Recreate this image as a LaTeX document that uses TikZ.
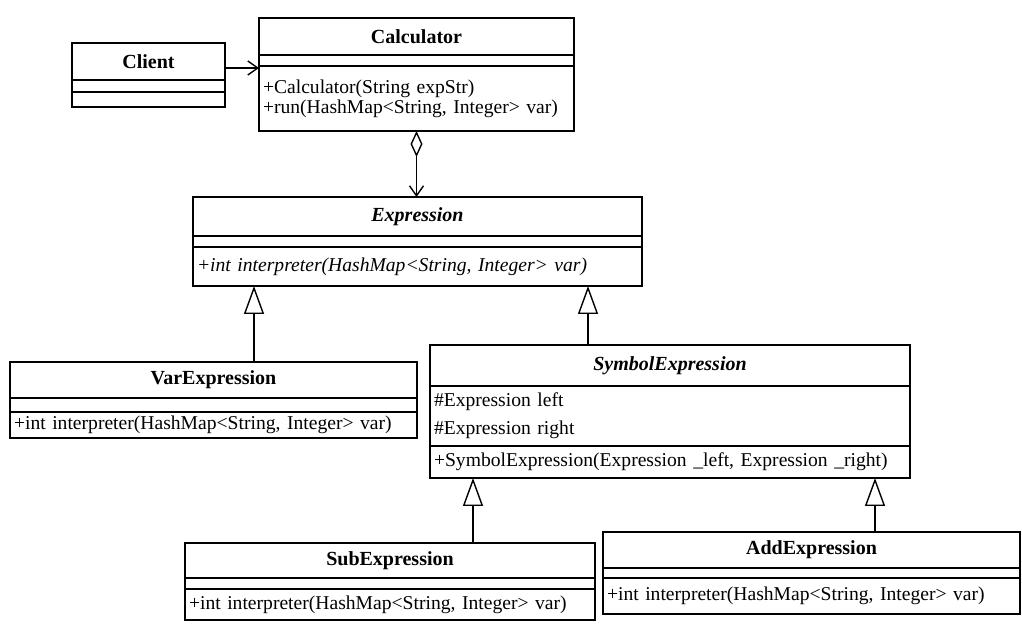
\documentclass[tikz,border=0pt]{standalone}
\usepackage{fontspec}
\setmainfont{Liberation Serif}
\usetikzlibrary{arrows.meta,positioning}

\tikzset{
  umlbox/.style={draw, line width=0.7pt, outer sep=0pt, inner xsep=2pt, inner ysep=0.5pt,
                 font=\fontsize{9.8}{10}\selectfont},
  umlname/.style={umlbox, align=center, font=\fontsize{10}{12}\selectfont\bfseries},
  umlpart/.style={umlbox, align=left},
  assoc/.style={line width=0.7pt, -{Straight Barb[length=5pt,width=7pt]}},
  aggr/.style={line width=0.7pt, {Diamond[open,length=13pt,width=6pt]}-{Straight Barb[length=5pt,width=7pt]}},
  inherit/.style={line width=0.7pt, -{Triangle[open,length=14pt,width=10pt]}}
}

\begin{document}
\begin{tikzpicture}[x=0.5pt,y=-0.5pt]
  \useasboundingbox (0,0) rectangle (1022,624);

  % Client
  \node[umlname, anchor=north west, text width=72.5pt, minimum height=18.5pt] (clientn) at (72,43) {Client};
  \node[umlpart, below=0pt of clientn, text width=72.5pt, minimum height=6pt] (clienta) {};
  \node[umlpart, below=0pt of clienta, text width=72.5pt, minimum height=7.5pt] (cliento) {};

  % Calculator
  \node[umlname, anchor=north west, text width=153.5pt, minimum height=18.5pt] (calcn) at (259,18) {Calculator};
  \node[umlpart, below=0pt of calcn, text width=153.5pt, minimum height=5.5pt] (calca) {};
  \node[umlpart, below=0pt of calca, text width=153.5pt, minimum height=32.5pt] (calco)
    {+Calculator(String expStr)\\+run(HashMap<String, Integer> var)};

  % Expression (abstract)
  \node[umlname, anchor=north west, text width=220.5pt, minimum height=19.5pt] (exprn) at (193,197)
    {\itshape Expression};
  \node[umlpart, below=0pt of exprn, text width=220.5pt, minimum height=5.5pt] (expra) {};
  \node[umlpart, below=0pt of expra, text width=220.5pt, minimum height=19.5pt] (expro)
    {\itshape +int interpreter(HashMap<String, Integer> var)};

  % VarExpression
  \node[umlname, anchor=north west, text width=199.5pt, minimum height=18pt] (varn) at (10,362) {VarExpression};
  \node[umlpart, below=0pt of varn, text width=199.5pt, minimum height=7pt] (vara) {};
  \node[umlpart, below=0pt of vara, text width=199.5pt, minimum height=13pt] (varo)
    {+int interpreter(HashMap<String, Integer> var)};

  % SymbolExpression (abstract)
  \node[umlname, anchor=north west, text width=236pt, minimum height=20.5pt] (symn) at (430,345)
    {\itshape SymbolExpression};
  \node[umlpart, below=0pt of symn, text width=236pt, minimum height=30pt] (syma)
    {\#Expression left\\[4pt]\#Expression right};
  \node[umlpart, below=0pt of syma, text width=236pt, minimum height=16pt] (symo)
    {+SymbolExpression(Expression \_left, Expression \_right)};

  % SubExpression
  \node[umlname, anchor=north west, text width=201pt, minimum height=17.5pt] (subn) at (185,543) {SubExpression};
  \node[umlpart, below=0pt of subn, text width=201pt, minimum height=5.5pt] (suba) {};
  \node[umlpart, below=0pt of suba, text width=201pt, minimum height=15.5pt] (subo)
    {+int interpreter(HashMap<String, Integer> var)};

  % AddExpression
  \node[umlname, anchor=north west, text width=204.5pt, minimum height=18pt] (addn) at (603,532) {AddExpression};
  \node[umlpart, below=0pt of addn, text width=204.5pt, minimum height=5pt] (adda) {};
  \node[umlpart, below=0pt of adda, text width=204.5pt, minimum height=18pt] (addo)
    {+int interpreter(HashMap<String, Integer> var)};

  % relations
  \draw[assoc] ([yshift=-3.25pt]clientn.east) -- ([yshift=-3.25pt]clientn.east -| calcn.west);
  \draw[aggr] (calco.south) -- (calco.south |- exprn.north);
  \draw[inherit] ([xshift=20.25pt]varn.north) -- ([xshift=20.25pt]varn.north |- expro.south);
  \draw[inherit] ([xshift=-41pt]symn.north) -- ([xshift=-41pt]symn.north |- expro.south);
  \draw[inherit] ([xshift=41.5pt]subn.north) -- ([xshift=41.5pt]subn.north |- symo.south);
  \draw[inherit] ([xshift=31.75pt]addn.north) -- ([xshift=31.75pt]addn.north |- symo.south);
\end{tikzpicture}
\end{document}
